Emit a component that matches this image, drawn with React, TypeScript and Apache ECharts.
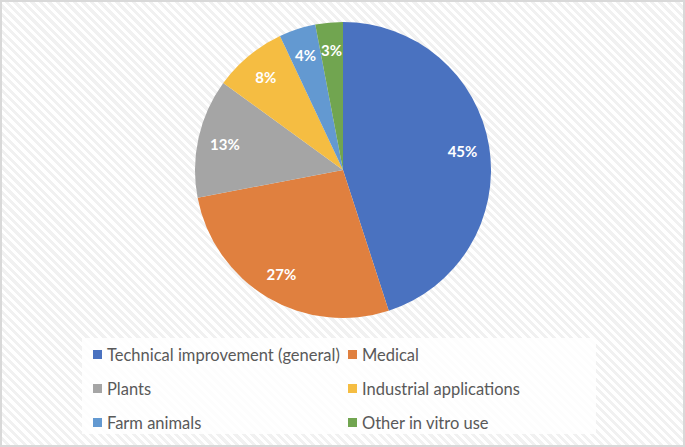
import React, { useEffect, useRef } from "react";
import * as echarts from "echarts";

const categories = [
  "Technical improvement (general)",
  "Medical",
  "Plants",
  "Industrial applications",
  "Farm animals",
  "Other in vitro use",
];
const values = [45, 27, 13, 8, 4, 3];
const colors = ["#4a72c0", "#e0803f", "#a5a5a5", "#f5bd42", "#6399d1", "#71a550"];
const legendLeft = [categories[0], categories[2], categories[4]];
const legendRight = [categories[1], categories[3], categories[5]];

export default function App() {
  const ref = useRef<HTMLDivElement>(null);
  useEffect(() => {
    document.body.style.margin = "0";
    const chart = echarts.init(ref.current!, null, { renderer: "svg" });
    const data = categories.map((name, i) => ({
      name,
      value: values[i],
      itemStyle: { color: colors[i] },
    }));
    const legendCommon = {
      orient: "vertical" as const,
      top: 344,
      padding: 0,
      itemGap: 17,
      itemWidth: 9,
      itemHeight: 9,
      icon: "rect",
      textStyle: {
        color: "#595959",
        fontSize: 16.5,
        lineHeight: 16,
        fontFamily: "Lato, 'Open Sans', sans-serif",
      },
    };
    chart.setOption({
      animation: false,
      color: colors,
      graphic: [
        {
          type: "rect",
          left: 80,
          top: 336,
          z: -1,
          shape: { width: 514, height: 96 },
          style: { fill: "rgba(255,255,255,0.85)" },
          silent: true,
        },
      ],
      legend: [
        { ...legendCommon, left: 91, data: legendLeft },
        { ...legendCommon, left: 346, data: legendRight },
      ],
      series: [
        {
          type: "pie",
          center: [341, 168],
          radius: [0, 148],
          startAngle: 90,
          clockwise: true,
          label: { show: false },
          labelLine: { show: false },
          emphasis: { disabled: true },
          data,
        },
        {
          type: "pie",
          center: [341, 168],
          radius: [0, 236],
          startAngle: 90,
          clockwise: true,
          silent: true,
          itemStyle: { color: "transparent" },
          label: {
            show: true,
            position: "inside",
            formatter: "{d}%",
            color: "#ffffff",
            fontSize: 15,
            fontWeight: "bold",
            fontFamily: "Lato, 'Open Sans', sans-serif",
          },
          labelLine: { show: false },
          emphasis: { disabled: true },
          data: categories.map((name, i) => ({
            name,
            value: values[i],
            itemStyle: { color: "transparent", borderWidth: 0 },
          })),
        },
      ],
    });
    return () => chart.dispose();
  }, []);
  return (
    <div
      style={{
        width: 685,
        height: 447,
        boxSizing: "border-box",
        border: "2px solid #d9d9d9",
        background:
          "repeating-linear-gradient(45deg, #ffffff 0px, #ffffff 3px, #f1f1f1 3px, #f1f1f1 6px)",
      }}
    >
      <div ref={ref} style={{ width: 681, height: 443 }} />
    </div>
  );
}
